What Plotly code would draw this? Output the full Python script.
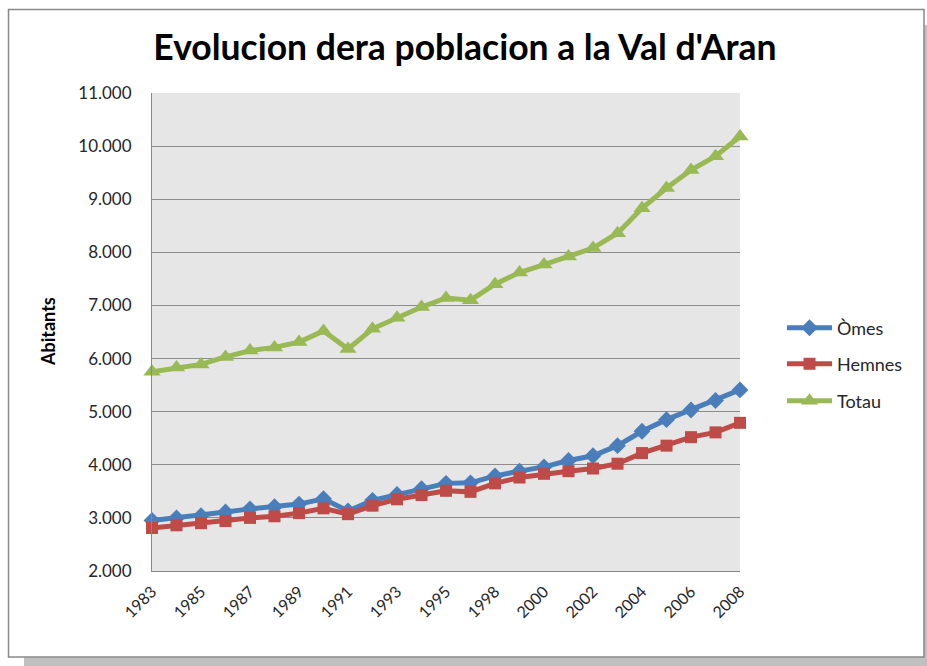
import plotly.graph_objects as go

years = ["1983", "1984", "1985", "1986", "1987", "1988", "1989", "1990", "1991",
         "1992", "1993", "1994", "1995", "1996", "1998", "1999", "2000", "2001",
         "2002", "2003", "2004", "2005", "2006", "2007", "2008"]
omes = [2950, 3000, 3040, 3110, 3170, 3210, 3260, 3360, 3130, 3330, 3440, 3550,
        3650, 3660, 3790, 3880, 3960, 4080, 4170, 4360, 4630, 4850, 5030, 5210, 5410]
hemnes = [2810, 2860, 2900, 2940, 3000, 3030, 3090, 3180, 3070, 3230, 3350, 3430,
          3510, 3490, 3650, 3760, 3830, 3880, 3930, 4020, 4220, 4360, 4520, 4610, 4790]
totau = [5750, 5830, 5890, 6030, 6150, 6210, 6310, 6520, 6180, 6560, 6770, 6970,
         7140, 7100, 7400, 7620, 7770, 7920, 8080, 8360, 8830, 9210, 9550, 9810, 10180]
tick_labels = years[::2]

FONT = "Lato"
W, H = 927, 666
L, R, T, B = 152, W - 740, 93, H - 571
PW, PH = W - L - R, H - T - B

def px(x):
    return (x - L) / PW

def py(y):
    return (H - B - y) / PH

fig = go.Figure()
series = [
    ("Òmes", omes, "#4a7ebb", "diamond", 13, "legend"),
    ("Hemnes", hemnes, "#be4b48", "square", 12, "legend2"),
    ("Totau", totau, "#98b954", "triangle-up", 15, "legend3"),
]
for name, vals, col, sym, size, lg in series:
    fig.add_trace(go.Scatter(
        x=years, y=vals, name=name, mode="lines+markers",
        line=dict(color=col, width=5),
        marker=dict(symbol=sym, size=size, color=col),
        cliponaxis=False, legend=lg, showlegend=True,
    ))

shapes = [
    dict(type="rect", xref="paper", yref="paper", layer="below",
         x0=px(24), x1=px(927), y0=py(666), y1=py(25),
         fillcolor="#c0c0c0", line=dict(width=0)),
    dict(type="rect", xref="paper", yref="paper", layer="below",
         x0=px(8.5), x1=px(924), y0=py(657), y1=py(9.5),
         fillcolor="white", line=dict(color="#888888", width=1.5)),
    dict(type="rect", xref="paper", yref="paper", layer="below",
         x0=0, x1=1, y0=0, y1=1,
         fillcolor="#e6e6e6", line=dict(width=0)),
]

def lg(y):
    return dict(x=px(782), y=py(y), xanchor="left", yanchor="middle",
                bgcolor="rgba(0,0,0,0)", borderwidth=0, itemwidth=45,
                font=dict(family=FONT, size=18, color="#262626"))

fig.update_layout(
    width=W, height=H,
    margin=dict(l=L, r=R, t=T, b=B, pad=0),
    paper_bgcolor="white", plot_bgcolor="rgba(0,0,0,0)",
    separators=",.",
    showlegend=True,
    font=dict(family=FONT, color="#262626"),
    title=dict(text="<b>Evolucion dera poblacion a la Val d'Aran</b>",
               xref="container", yref="container",
               x=465 / W, y=1 - 48 / H, xanchor="center", yanchor="middle",
               font=dict(family=FONT, size=35.5, color="black")),
    shapes=shapes,
    legend=lg(328), legend2=lg(364), legend3=lg(401),
    annotations=[dict(text="<b>Abitants</b>", xref="paper", yref="paper",
                      x=px(48), y=0.5, textangle=-90, showarrow=False,
                      xanchor="center", yanchor="middle",
                      font=dict(family=FONT, size=18, color="black"))],
)
fig.update_xaxes(
    type="category", range=[0, len(years) - 1],
    tickvals=tick_labels, ticktext=tick_labels, tickangle=-45,
    showgrid=False, showline=True, linecolor="#888888", linewidth=1,
    ticks="", tickfont=dict(family=FONT, size=16, color="#262626"),
    ticklabelstandoff=4,
)
fig.update_yaxes(
    range=[2000, 11000], dtick=1000, tickformat=",.0f",
    showgrid=True, gridcolor="#8c8c8c", gridwidth=1,
    showline=True, linecolor="#888888", linewidth=1, zeroline=False,
    ticks="", tickfont=dict(family=FONT, size=17, color="#262626"),
    ticklabelstandoff=16,
)
fig.write_html("out.html",
               config={"displayModeBar": False},
               post_script="document.body.style.margin='0';"
                           "document.documentElement.style.overflow='hidden';")
